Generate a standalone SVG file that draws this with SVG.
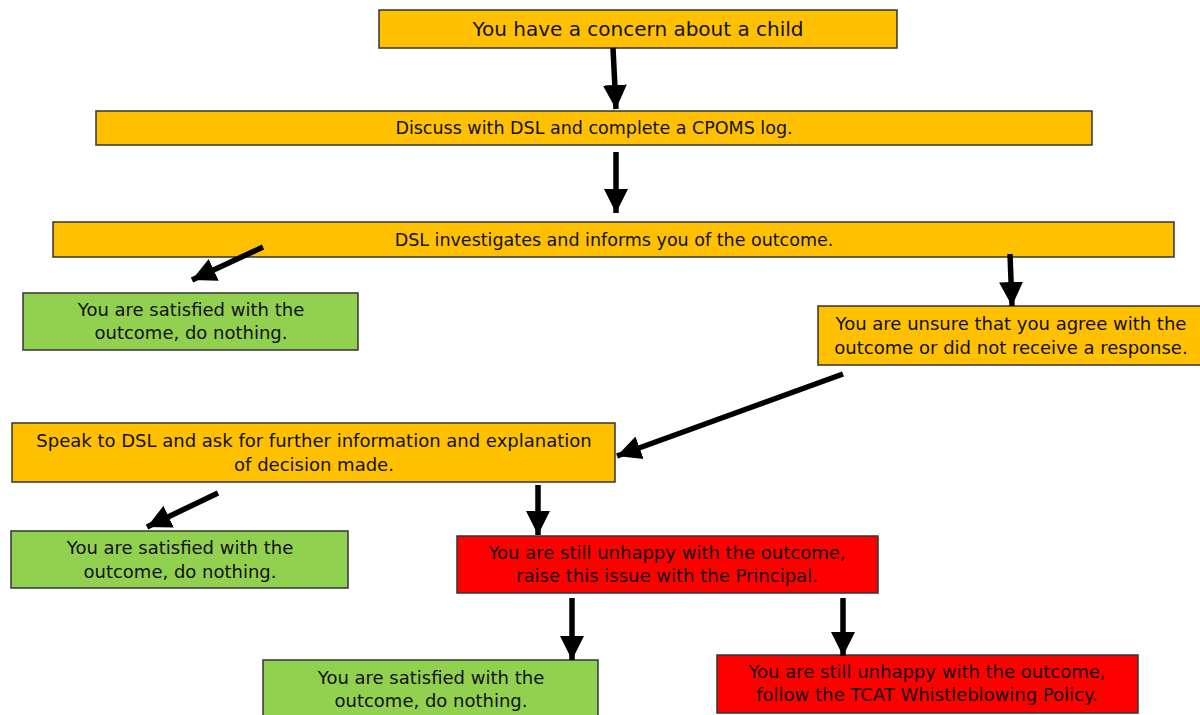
<svg xmlns="http://www.w3.org/2000/svg" width="1200" height="715" viewBox="0 0 1200 715">
<style>
.box{stroke:#333;stroke-width:1.5}
.o{fill:#FFC000}.g{fill:#92D050}.r{fill:#FF0000}
text{font-family:"Comic Sans MS","DejaVu Sans",sans-serif;fill:#111;text-anchor:middle}
.t1{font-size:20px}.t2{font-size:17.5px}.t3{font-size:18px}
.c line{stroke:#000;stroke-width:5.5;marker-end:url(#ah)}
</style>
<defs>
<marker id="ah" markerUnits="userSpaceOnUse" markerWidth="26" markerHeight="26" viewBox="0 0 26 26" refX="24" refY="13" orient="auto">
<polygon points="0,1 24,13 0,25" fill="#000"/>
</marker>
</defs>
<rect width="1200" height="715" fill="#fff"/>
<g id="n1"><rect class="box o" x="379" y="10" width="518" height="38"/><text class="t1" x="638" y="36">You have a concern about a child</text></g>
<g id="n2"><rect class="box o" x="96" y="111" width="996" height="34"/><text class="t2" x="594" y="134">Discuss with DSL and complete a CPOMS log.</text></g>
<g id="n3"><rect class="box o" x="53" y="222" width="1121" height="35"/><text class="t2" x="614" y="246">DSL investigates and informs you of the outcome.</text></g>
<g id="n4"><rect class="box g" x="23" y="293" width="335" height="57"/><text class="t3" x="191" y="316">You are satisfied with the</text><text class="t3" x="191" y="339">outcome, do nothing.</text></g>
<g id="n5"><rect class="box o" x="818" y="306" width="390" height="59"/><text class="t3" x="1011" y="330">You are unsure that you agree with the</text><text class="t3" x="1011" y="354">outcome or did not receive a response.</text></g>
<g id="n6"><rect class="box o" x="12" y="423" width="603" height="59"/><text class="t3" x="314" y="447">Speak to DSL and ask for further information and explanation</text><text class="t3" x="314" y="471">of decision made.</text></g>
<g id="n7"><rect class="box g" x="11" y="531" width="337" height="57"/><text class="t3" x="180" y="554">You are satisfied with the</text><text class="t3" x="180" y="578">outcome, do nothing.</text></g>
<g id="n8"><rect class="box r" x="457" y="536" width="421" height="57"/><text class="t3" x="667" y="559">You are still unhappy with the outcome,</text><text class="t3" x="667" y="582">raise this issue with the Principal.</text></g>
<g id="n9"><rect class="box g" x="263" y="660" width="335" height="60"/><text class="t3" x="431" y="684">You are satisfied with the</text><text class="t3" x="431" y="707">outcome, do nothing.</text></g>
<g id="n10"><rect class="box r" x="717" y="655" width="421" height="58"/><text class="t3" x="927" y="678">You are still unhappy with the outcome,</text><text class="t3" x="927" y="701">follow the TCAT Whistleblowing Policy.</text></g>
<g id="connectors" class="c">
<line x1="613" y1="48" x2="616" y2="109"/>
<line x1="616" y1="152" x2="616" y2="213"/>
<line x1="263" y1="247" x2="192" y2="280"/>
<line x1="1010" y1="254" x2="1012" y2="306"/>
<line x1="843" y1="374" x2="617" y2="456"/>
<line x1="538" y1="485" x2="538" y2="535"/>
<line x1="218" y1="493" x2="147" y2="527"/>
<line x1="572" y1="598" x2="572" y2="660"/>
<line x1="843" y1="598" x2="843" y2="656"/>
</g>
</svg>
